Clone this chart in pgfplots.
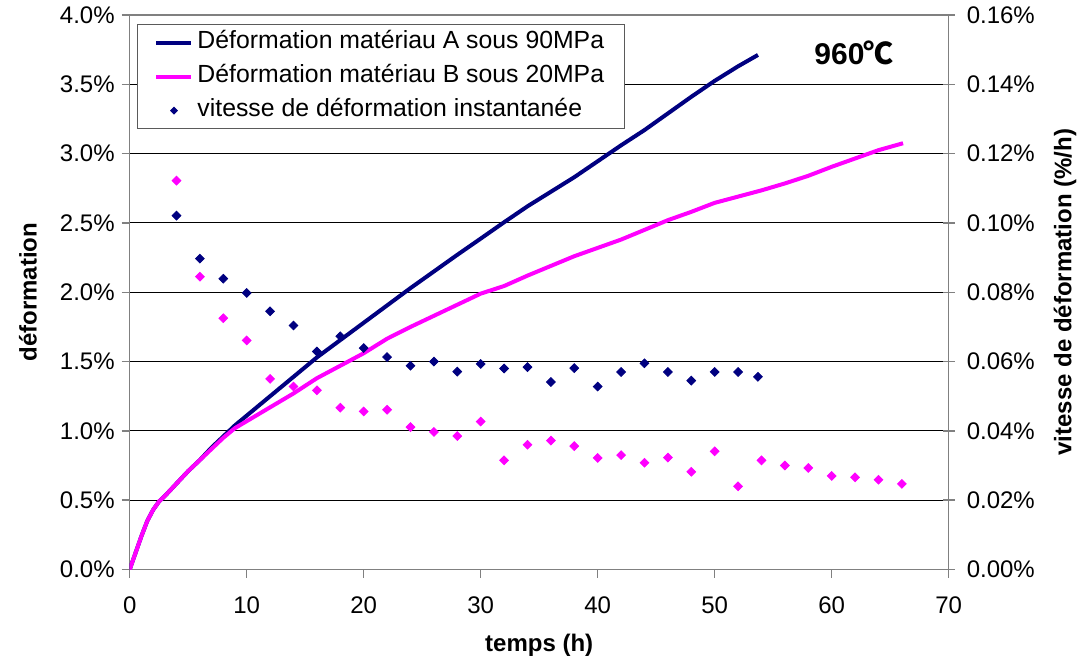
\documentclass[border=0pt]{standalone}
\usepackage{fontspec}
\setmainfont{Liberation Sans}
\newfontfamily\cjk{Noto Sans CJK SC}
\usepackage{pgfplots}
\usepackage{pgfplotstable}
\pgfplotsset{compat=1.18}
\definecolor{navyA}{RGB}{0,0,128}
\definecolor{magA}{RGB}{255,0,255}
\definecolor{axgray}{RGB}{128,128,128}
\pgfplotsset{
  lineleg/.style={legend image code/.code={\draw[##1] (0pt,0pt) -- (17.5pt,0pt);}},
  markleg/.style={legend image code/.code={\draw[##1, mark size=1.1pt] plot coordinates {(8.75pt,0pt)};}},
}
\pgfplotstableread{
t e
0 0
0.5 0.12
1 0.24
1.5 0.35
2 0.43
2.5 0.49
3 0.53
4 0.62
5 0.71
6 0.79
7 0.88
8 0.96
9 1.04
10 1.11
12 1.25
14 1.39
16 1.53
18 1.655
20 1.78
22 1.905
24 2.03
26 2.15
28 2.27
30 2.387
32 2.505
34 2.62
36 2.725
38 2.83
40 2.945
42 3.06
44 3.17
46 3.29
48 3.41
50 3.525
52 3.63
53.7 3.712
}\lineA
\pgfplotstableread{
t e
0 0
0.5 0.12
1 0.24
1.5 0.35
2 0.43
2.5 0.49
3 0.53
4 0.62
5 0.71
6 0.79
7 0.87
8 0.95
9 1.02
10 1.07
12 1.17
14 1.27
16 1.38
18 1.47
20 1.56
22 1.665
24 1.75
26 1.83
28 1.91
30 1.99
32 2.045
34 2.12
36 2.19
38 2.26
40 2.32
42 2.38
44 2.45
46 2.52
48 2.58
50 2.645
52 2.69
54 2.735
56 2.785
58 2.84
60 2.905
62 2.965
64 3.025
66.1 3.075
}\lineB
\pgfplotstableread{
t v
4 0.1021
6 0.0897
8 0.0839
10 0.0798
12 0.0745
14 0.0704
16 0.0629
18 0.0673
20 0.0639
22 0.0613
24 0.0588
26 0.0600
28 0.0571
30 0.0593
32 0.0580
34 0.0584
36 0.0541
38 0.0581
40 0.0528
42 0.0570
44 0.0595
46 0.0570
48 0.0545
50 0.0570
52 0.0570
53.7 0.0556
}\rateA
\pgfplotstableread{
t v
4 0.1122
6 0.0845
8 0.0725
10 0.0661
12 0.0550
14 0.0528
16 0.0517
18 0.0467
20 0.0456
22 0.0461
24 0.0411
26 0.0397
28 0.0385
30 0.0427
32 0.0315
34 0.0360
36 0.0372
38 0.0356
40 0.0322
42 0.0330
44 0.0308
46 0.0323
48 0.0282
50 0.0341
52 0.0240
54 0.0315
56 0.0300
58 0.0293
60 0.0270
62 0.0266
64 0.0259
66 0.0247
}\rateB
\begin{document}
\begin{tikzpicture}[font=\fontsize{12}{14.4}\selectfont]
\pgfplotsset{
  common/.style={
    width=409.5pt, height=277.25pt, scale only axis,
    at={(0,0)}, anchor=south west,
    xmin=0, xmax=70,
    /pgf/number format/assume math mode=true,
    tick label style={font=\fontsize{12}{14.4}\selectfont},
    label style={font=\fontsize{12}{14.4}\selectfont\bfseries},
    axis line style={axgray, line width=0.75pt},
    tick style={axgray, line width=0.75pt},
  }
}
\begin{axis}[common,
  ymin=0, ymax=4,
  xtick={0,10,...,70},
  xticklabels={0,10,20,30,40,50,60,70},
  xticklabel style={yshift=-6pt},
  ytick={0,0.5,...,4},
  yticklabels={0.0\%,0.5\%,1.0\%,1.5\%,2.0\%,2.5\%,3.0\%,3.5\%,4.0\%},
  ymajorgrids, grid style={black, line width=0.5pt},
  tick align=outside, tick pos=left, major tick length=4pt,
  xlabel={temps (h)}, ylabel={déformation},
  xlabel style={at={(axis description cs:0.5,-0.136)}, anchor=center},
  ylabel style={at={(axis description cs:-0.1242,0.5)}, anchor=center},
]
\addplot[navyA, line width=2pt, no marks] table[x=t,y=e] {\lineA};
\addplot[magA, line width=2pt, no marks] table[x=t,y=e] {\lineB};
\node[font=\fontsize{15}{17}\selectfont\bfseries, inner sep=0pt] at (axis cs:61.9,3.726) {960\kern-0.5pt{\cjk ℃}};
\end{axis}
\begin{axis}[common,
  ymin=0, ymax=0.16,
  axis x line=none, axis y line*=right,
  ytick={0,0.02,...,0.16},
  yticklabels={0.00\%,0.02\%,0.04\%,0.06\%,0.08\%,0.10\%,0.12\%,0.14\%,0.16\%},
  yticklabel style={xshift=2.5pt},
  ytick align=center, major tick length=6pt,
  ylabel={vitesse de déformation (\%/h)},
  ylabel style={at={(axis description cs:1.142,0.5)}, anchor=center},
  legend cell align=left,
  legend style={at={(axis description cs:0,1)}, anchor=north west,
    xshift=3.8pt, yshift=-4.5pt, draw=axgray!70!black, line width=0.6pt,
    fill=white, font=\fontsize{12.4}{14.4}\selectfont,
    inner xsep=8.3pt, inner ysep=1pt, row sep=1pt,
    nodes={inner sep=2pt, text height=9pt, text depth=3pt}},
]
\addlegendimage{navyA, line width=2pt, lineleg}
\addlegendentry{Déformation matériau A sous 90MPa}
\addlegendimage{magA, line width=2pt, lineleg}
\addlegendentry{Déformation matériau B sous 20MPa}
\addplot[only marks, mark=square*, mark size=1.55pt, mark options={rotate=45, fill=navyA, draw=navyA}, markleg] table[x=t,y=v] {\rateA};
\addlegendentry{vitesse de déformation instantanée}
\addplot[only marks, mark=square*, mark size=1.55pt, mark options={rotate=45, fill=magA, draw=magA}, forget plot] table[x=t,y=v] {\rateB};
\end{axis}
\pgfresetboundingbox
\path[use as bounding box] (-64.85pt,-45.75pt) rectangle (477.15pt,284.75pt);
\end{tikzpicture}
\end{document}
